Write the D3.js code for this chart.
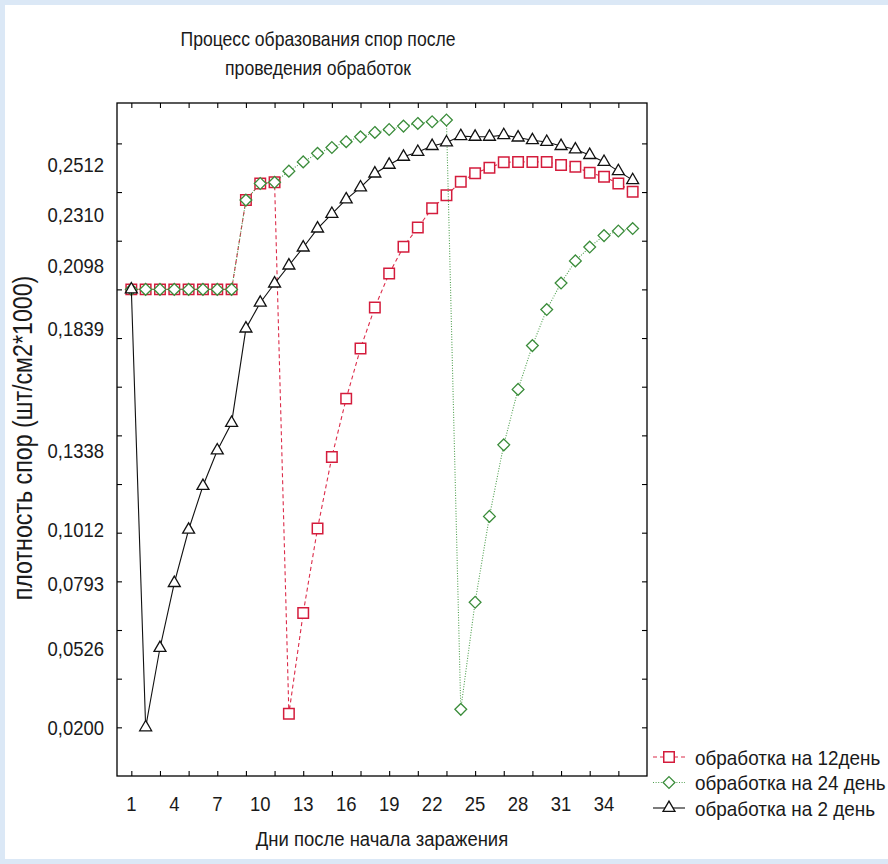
<!DOCTYPE html>
<html>
<head>
<meta charset="utf-8">
<script src="https://cdn.jsdelivr.net/npm/d3@7"></script>
<style>
  body { margin: 0; background: #dbe8f6; }
  svg { display: block; }
  text { font-family: "Liberation Sans", Arial, sans-serif; fill: #1a1a1a; }
</style>
</head>
<body>
<div id="chart"></div>
<script>
// days after infection
var days = [1, 2, 3, 4, 5, 6, 7, 8, 9, 10, 11, 12, 13, 14, 15, 16, 17, 18,
  19, 20, 21, 22, 23, 24, 25, 26, 27, 28, 29, 30, 31, 32, 33, 34, 35, 36];

// treatment on day 12
var treat12 = [0.2, 0.2, 0.2, 0.2, 0.2, 0.2, 0.2, 0.2, 0.2367, 0.2435, 0.244,
  0.0256, 0.067, 0.1017, 0.1311, 0.1551, 0.1757, 0.1926, 0.2065, 0.2175, 0.2254,
  0.2333, 0.2387, 0.2442, 0.2477, 0.25, 0.2522, 0.2524, 0.2524, 0.2524, 0.2511,
  0.2504, 0.2479, 0.2463, 0.2435, 0.2401];

// treatment on day 24
var treat24 = [0.2, 0.2, 0.2, 0.2, 0.2, 0.2, 0.2, 0.2, 0.2367, 0.2435, 0.244,
  0.2486, 0.2524, 0.2559, 0.2583, 0.2607, 0.2627, 0.2645, 0.2657, 0.2671, 0.2682,
  0.2689, 0.2696, 0.0274, 0.0714, 0.1067, 0.1361, 0.1589, 0.1769, 0.1917, 0.2026,
  0.2117, 0.2174, 0.2221, 0.224, 0.225];

// treatment on day 2
var treat2 = [0.2, 0.02, 0.0526, 0.0793, 0.1012, 0.1192, 0.1338, 0.1451, 0.1839,
  0.1945, 0.2024, 0.2098, 0.2172, 0.225, 0.231, 0.237, 0.2419, 0.2476, 0.2512,
  0.2545, 0.2565, 0.2589, 0.2604, 0.263, 0.2627, 0.2627, 0.2634, 0.2624, 0.2613,
  0.2606, 0.2589, 0.2575, 0.2552, 0.2524, 0.2486, 0.2449];

var seriesNames = ['обработка на 12день', 'обработка на 24 день', 'обработка на 2 день'];

var xTicks = [1, 3, 5, 7, 9, 11, 13, 15, 17, 19, 21, 23, 25, 27, 29, 31, 33, 35];
var xTickLabels = [1, 4, 7, 10, 13, 16, 19, 22, 25, 28, 31, 34];
var yTicks = [0.02, 0.04, 0.06, 0.08, 0.1, 0.12, 0.14, 0.16, 0.18, 0.2, 0.22, 0.24, 0.26];
var yTickLabels = [0.02, 0.0526, 0.0793, 0.1012, 0.1338, 0.1839, 0.2098, 0.2310, 0.2512];

var width = 888, height = 864;
var plotLeft = 117, plotRight = 647, plotTop = 103, plotBottom = 776;
var squeeze = 'scale(0.88,1)';

var svg = d3.select('#chart').append('svg').attr('width', width).attr('height', height);

svg.append('rect').attr('width', width).attr('height', height).attr('fill', '#dbe8f6');
svg.append('rect').attr('x', 5).attr('y', 5).attr('width', width - 5).attr('height', 854).attr('fill', '#fff');

var x = d3.scaleLinear().domain([0, 37]).range([plotLeft, plotRight]);
var y = d3.scaleLinear().domain([0, 0.2766]).range([plotBottom, plotTop]);

var ru = d3.formatLocale({decimal: ',', thousands: ' ', grouping: [3], currency: ['', '']});
var fmt = ru.format('.4f');

// title
svg.append('text').attr('transform', 'translate(318,46) ' + squeeze).attr('text-anchor', 'middle')
  .style('font-size', '20px').text('Процесс образования спор после');
svg.append('text').attr('transform', 'translate(318,75) ' + squeeze).attr('text-anchor', 'middle')
  .style('font-size', '20px').text('проведения обработок');

// frame + inward ticks on all sides
svg.append('rect').attr('x', plotLeft).attr('y', plotTop)
  .attr('width', plotRight - plotLeft).attr('height', plotBottom - plotTop)
  .attr('fill', '#fff').attr('stroke', '#000').attr('stroke-width', 1.3);

function ticks(axis, tx, ty) {
  svg.append('g').attr('transform', 'translate(' + tx + ',' + ty + ')')
    .call(axis.tickSize(-5).tickFormat(''))
    .call(g => g.select('.domain').remove())
    .call(g => g.selectAll('line').attr('stroke', '#000').attr('stroke-width', 1.1));
}
ticks(d3.axisBottom(x).tickValues(xTicks), 0, plotBottom);
ticks(d3.axisTop(x).tickValues(xTicks), 0, plotTop);
ticks(d3.axisLeft(y).tickValues(yTicks), plotLeft, 0);
ticks(d3.axisRight(y).tickValues(yTicks), plotRight, 0);

// tick labels
svg.selectAll('.ylab').data(yTickLabels).join('text').attr('class', 'ylab')
  .attr('transform', d => 'translate(' + (plotLeft - 13) + ',' + y(d) + ') ' + squeeze)
  .attr('dy', '0.36em').attr('text-anchor', 'end').style('font-size', '21px')
  .text(d => fmt(d));

svg.selectAll('.xlab').data(xTickLabels).join('text').attr('class', 'xlab')
  .attr('transform', d => 'translate(' + x(d) + ',811) ' + squeeze)
  .attr('text-anchor', 'middle').style('font-size', '21px')
  .text(d => d);

// axis titles
svg.append('text').attr('transform', 'translate(' + (plotLeft + plotRight) / 2 + ',846) ' + squeeze)
  .attr('text-anchor', 'middle').style('font-size', '21px').text('Дни после начала заражения');
svg.append('text').attr('transform', 'translate(32,438) rotate(-90) scale(0.86,1)')
  .attr('text-anchor', 'middle').style('font-size', '27px').text('плотность спор (шт/см2*1000)');

// series
var series = [
  {name: seriesNames[0], values: treat12, color: '#d41c3c', lineColor: '#dc2c4a', dash: '4,3', symbol: d3.symbolSquare, size: 110, sw: 1.5},
  {name: seriesNames[1], values: treat24, color: '#3a8c3a', lineColor: '#4f9f4f', dash: '1,1.6', symbol: d3.symbolDiamond2, size: 88, sw: 1.3},
  {name: seriesNames[2], values: treat2, color: '#111', lineColor: '#111', dash: null, symbol: d3.symbolTriangle, size: 62, sw: 1.3}
];

var line = d3.line().x((d, i) => x(days[i])).y(d => y(d));

series.forEach(function(s) {
  var g = svg.append('g');
  g.append('path').datum(s.values).attr('d', line).attr('fill', 'none')
    .attr('stroke', s.lineColor).attr('stroke-width', 1.1).attr('stroke-dasharray', s.dash);
  g.selectAll('path.m').data(s.values).join('path').attr('class', 'm')
    .attr('transform', (d, i) => 'translate(' + x(days[i]) + ',' + y(d) + ')')
    .attr('d', d3.symbol().type(s.symbol).size(s.size))
    .attr('fill', '#fff').attr('stroke', s.color).attr('stroke-width', s.sw);
});

// legend
var legend = svg.append('g');
series.forEach(function(s, i) {
  var ly = 757 + i * 25.5;
  legend.append('line').attr('x1', 653).attr('x2', 685).attr('y1', ly).attr('y2', ly)
    .attr('stroke', s.lineColor).attr('stroke-width', 1.1).attr('stroke-dasharray', s.dash);
  legend.append('path').attr('transform', 'translate(669,' + ly + ')')
    .attr('d', d3.symbol().type(s.symbol).size(s.size))
    .attr('fill', '#fff').attr('stroke', s.color).attr('stroke-width', s.sw);
  legend.append('text').attr('transform', 'translate(695,' + ly + ') scale(0.9,1)')
    .attr('dy', '0.36em').style('font-size', '21px').text(s.name);
});
</script>
</body>
</html>
